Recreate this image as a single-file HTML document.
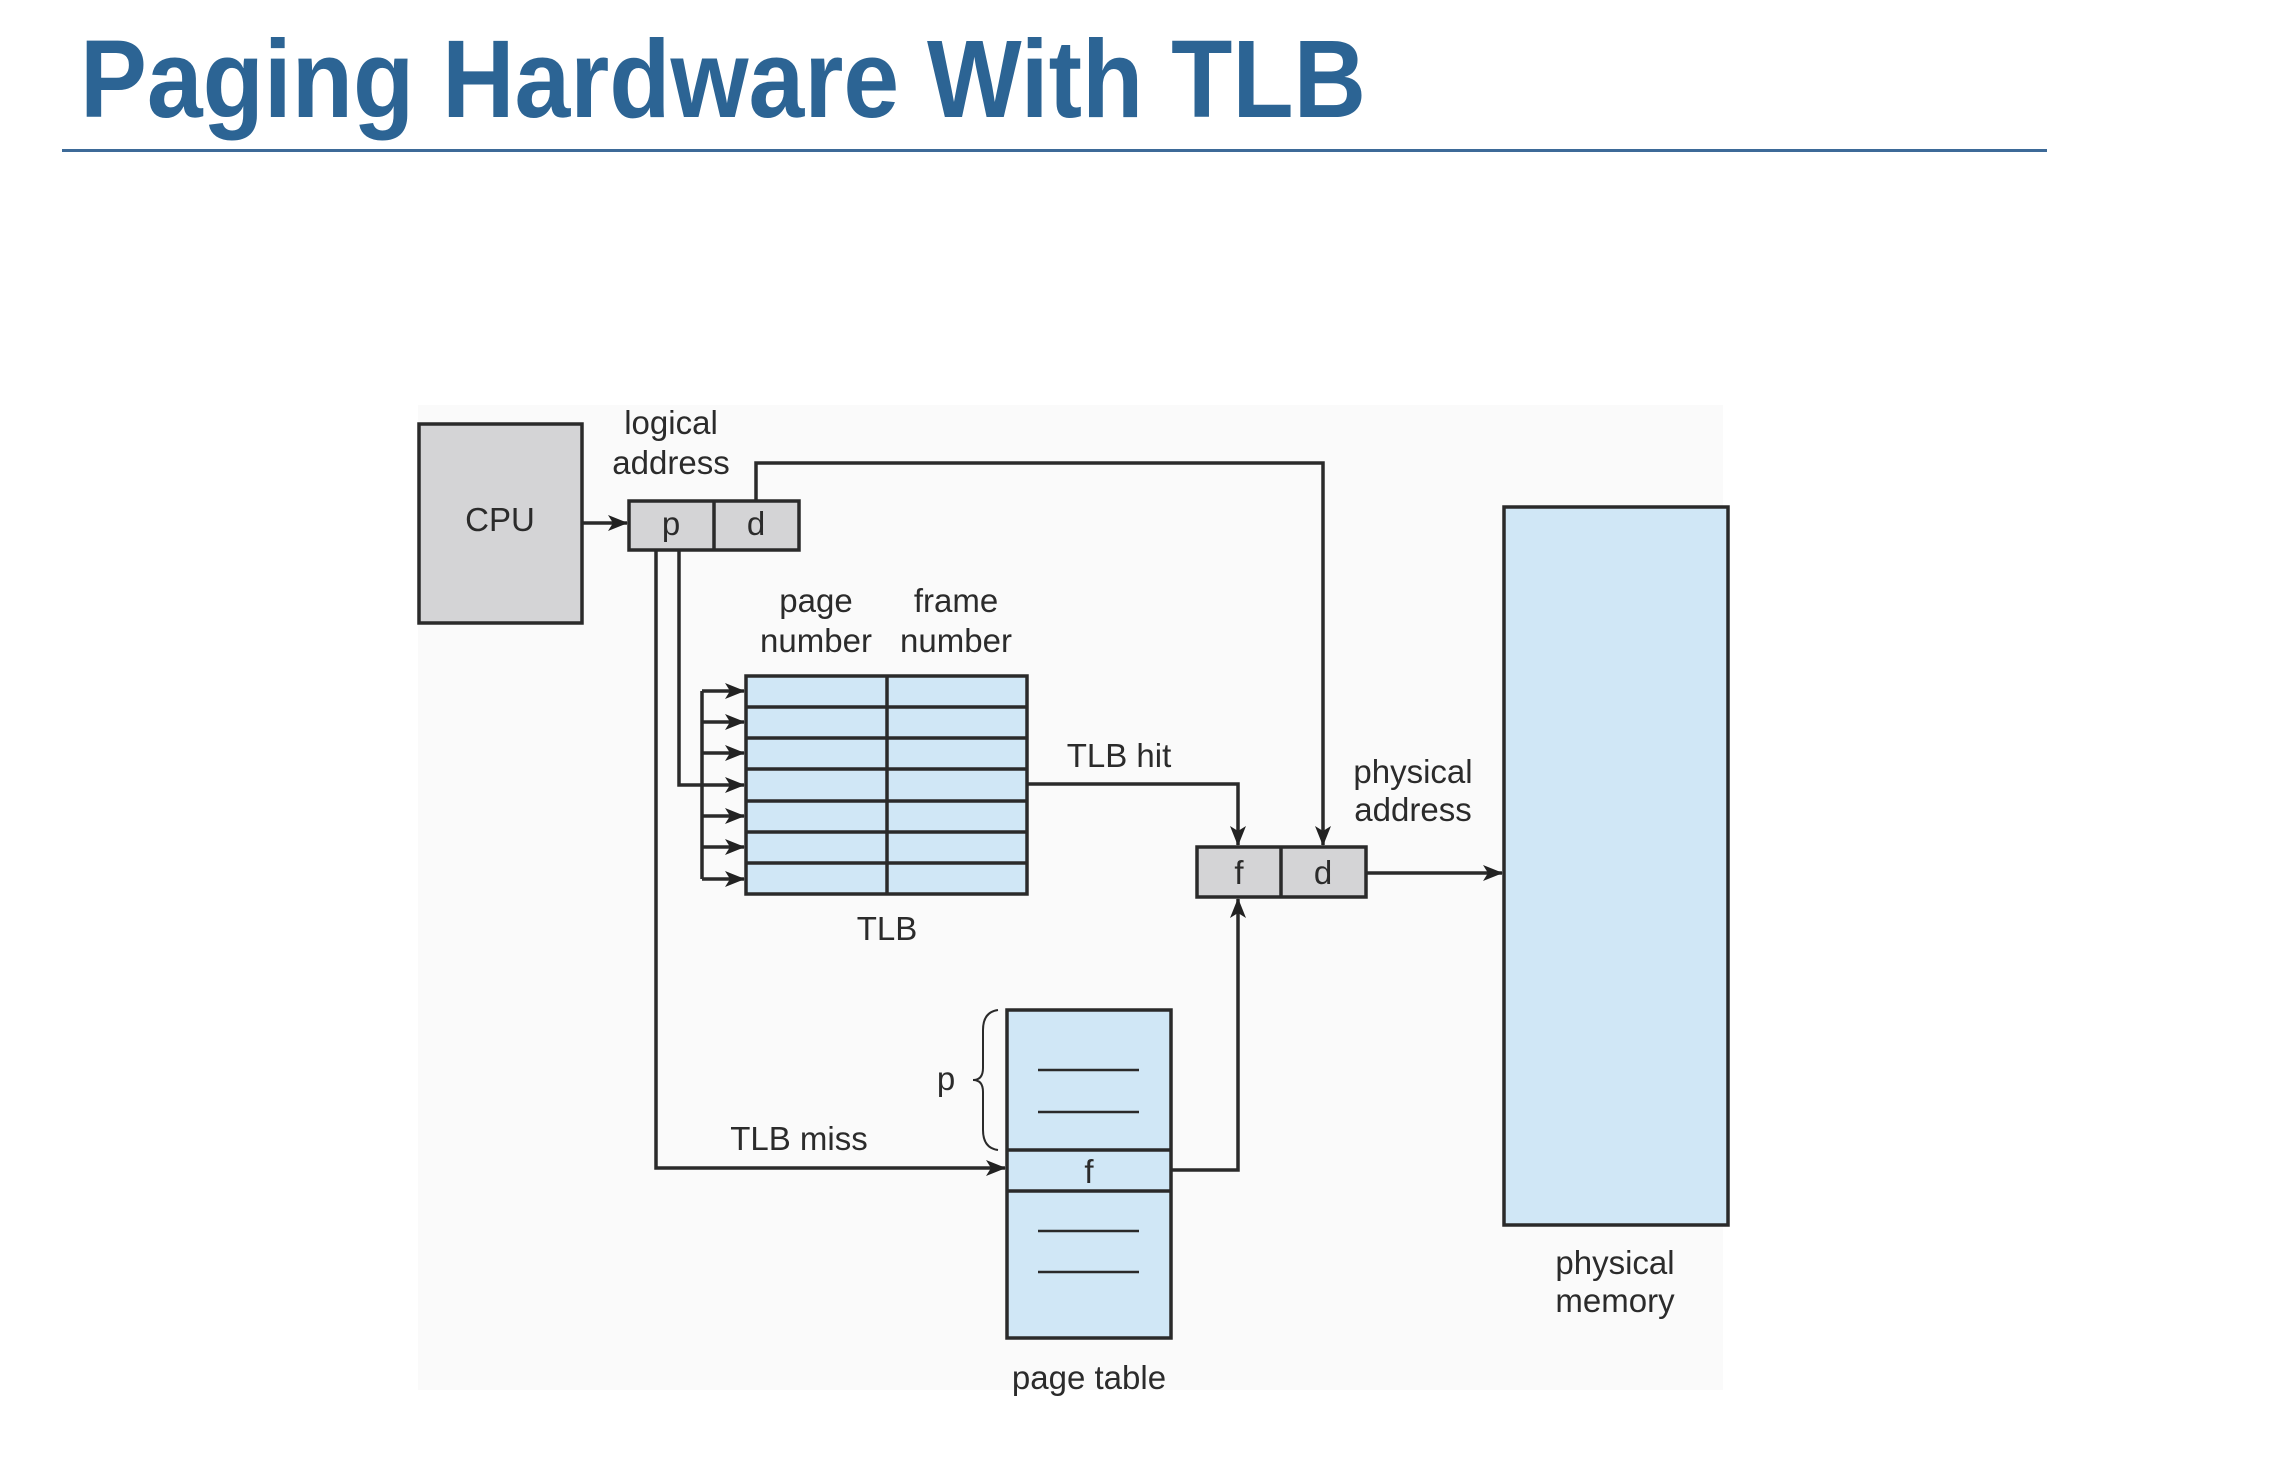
<!DOCTYPE html>
<html><head><meta charset="utf-8"><style>
html,body{margin:0;padding:0;background:#fff;}
svg{display:block;}
text{font-family:"Liberation Sans",sans-serif;fill:#2b2b2b;}
</style></head><body>
<svg width="2286" height="1472" viewBox="0 0 2286 1472" xmlns="http://www.w3.org/2000/svg">
<defs>
<marker id="ah2" markerWidth="20" markerHeight="16" refX="19" refY="8" orient="auto" markerUnits="userSpaceOnUse">
<path d="M0,0 L20,8 L0,16 L5,8 z" fill="#222"/>
</marker>
</defs>
<text x="80" y="117" font-size="110" font-weight="bold" textLength="1286" lengthAdjust="spacingAndGlyphs" style="fill:#2c6494">Paging Hardware With TLB</text>
<rect x="62" y="149" width="1985" height="3" fill="#3d6a98"/>
<rect x="418" y="405" width="1305" height="985" fill="#fafafa"/>
<g stroke="#2a2a2a" stroke-width="3.5" fill="none">
<rect x="419" y="424" width="163" height="199" fill="#d4d4d6"/>
<rect x="629" y="501" width="170" height="49" fill="#d4d4d6"/>
<line x1="714" y1="501" x2="714" y2="550"/>
<rect x="1197" y="847" width="169" height="50" fill="#d4d4d6"/>
<line x1="1281" y1="847" x2="1281" y2="897"/>
<rect x="1504" y="507" width="224" height="718" fill="#d0e7f6"/>
<rect x="746" y="676" width="281" height="218" fill="#d0e7f6"/>
<line x1="887" y1="676" x2="887" y2="894"/>
<line x1="746" y1="707" x2="1027" y2="707"/>
<line x1="746" y1="738" x2="1027" y2="738"/>
<line x1="746" y1="769" x2="1027" y2="769"/>
<line x1="746" y1="801" x2="1027" y2="801"/>
<line x1="746" y1="832" x2="1027" y2="832"/>
<line x1="746" y1="863" x2="1027" y2="863"/>
<rect x="1007" y="1010" width="164" height="328" fill="#d0e7f6"/>
<line x1="1007" y1="1150" x2="1171" y2="1150"/>
<line x1="1007" y1="1191" x2="1171" y2="1191"/>
<line x1="1038" y1="1070" x2="1139" y2="1070" stroke-width="2.5"/>
<line x1="1038" y1="1112" x2="1139" y2="1112" stroke-width="2.5"/>
<line x1="1038" y1="1231" x2="1139" y2="1231" stroke-width="2.5"/>
<line x1="1038" y1="1272" x2="1139" y2="1272" stroke-width="2.5"/>
<path d="M998,1010 Q983,1012 983,1030 L983,1068 Q983,1080 973,1080 Q983,1080 983,1092 L983,1130 Q983,1148 998,1150" stroke-width="2"/>
<line x1="582" y1="523" x2="627" y2="523" marker-end="url(#ah2)"/>
<polyline points="756,501 756,463 1323,463 1323,845" marker-end="url(#ah2)"/>
<line x1="1366" y1="873" x2="1502" y2="873" marker-end="url(#ah2)"/>
<polyline points="679,550 679,785 702,785"/>
<line x1="702" y1="691" x2="702" y2="879"/>
<line x1="702" y1="691" x2="744" y2="691" marker-end="url(#ah2)"/>
<line x1="702" y1="722" x2="744" y2="722" marker-end="url(#ah2)"/>
<line x1="702" y1="753" x2="744" y2="753" marker-end="url(#ah2)"/>
<line x1="702" y1="785" x2="744" y2="785" marker-end="url(#ah2)"/>
<line x1="702" y1="816" x2="744" y2="816" marker-end="url(#ah2)"/>
<line x1="702" y1="847" x2="744" y2="847" marker-end="url(#ah2)"/>
<line x1="702" y1="879" x2="744" y2="879" marker-end="url(#ah2)"/>
<polyline points="656,550 656,1168 1005,1168" marker-end="url(#ah2)"/>
<polyline points="1027,784 1238,784 1238,845" marker-end="url(#ah2)"/>
<polyline points="1171,1170 1238,1170 1238,899" marker-end="url(#ah2)"/>
</g>
<g font-size="33" text-anchor="middle">
<text x="500" y="531">CPU</text>
<text x="671" y="434">logical</text>
<text x="671" y="474">address</text>
<text x="671" y="535">p</text>
<text x="756" y="535">d</text>
<text x="1239" y="884">f</text>
<text x="1323" y="884">d</text>
<text x="816" y="612">page</text>
<text x="816" y="652">number</text>
<text x="956" y="612">frame</text>
<text x="956" y="652">number</text>
<text x="887" y="940">TLB</text>
<text x="1119" y="767">TLB hit</text>
<text x="1413" y="783">physical</text>
<text x="1413" y="821">address</text>
<text x="1615" y="1274">physical</text>
<text x="1615" y="1312">memory</text>
<text x="799" y="1150">TLB miss</text>
<text x="1089" y="1183">f</text>
<text x="946" y="1090">p</text>
<text x="1089" y="1389">page table</text>
</g>
</svg>
</body></html>
